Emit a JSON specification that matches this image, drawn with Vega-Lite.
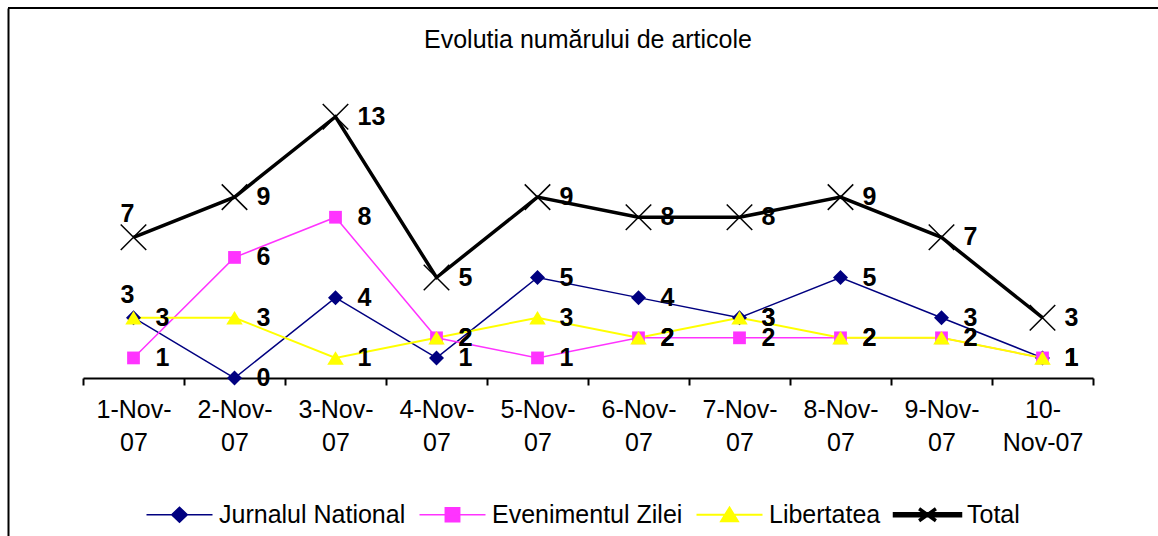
{
  "$schema": "https://vega.github.io/schema/vega-lite/v6.json",
  "width": 1150,
  "height": 528,
  "autosize": {"type": "none"},
  "padding": {"left": 8, "top": 8, "right": 0, "bottom": 0},
  "background": "white",
  "config": {"view": {"stroke": null}, "font": "Liberation Sans"},
  "title": {
    "text": "Evolutia numărului de articole",
    "font": "Liberation Sans",
    "fontSize": 25,
    "fontWeight": "normal",
    "color": "black",
    "anchor": "middle",
    "baseline": "middle",
    "offset": -33,
    "dy": 25,
    "dx": 5
  },
  "datasets": {
    "articles": [
      {"date": "1-Nov-07", "series": "Jurnalul National", "value": 3},
      {"date": "2-Nov-07", "series": "Jurnalul National", "value": 0},
      {"date": "3-Nov-07", "series": "Jurnalul National", "value": 4},
      {"date": "4-Nov-07", "series": "Jurnalul National", "value": 1},
      {"date": "5-Nov-07", "series": "Jurnalul National", "value": 5},
      {"date": "6-Nov-07", "series": "Jurnalul National", "value": 4},
      {"date": "7-Nov-07", "series": "Jurnalul National", "value": 3},
      {"date": "8-Nov-07", "series": "Jurnalul National", "value": 5},
      {"date": "9-Nov-07", "series": "Jurnalul National", "value": 3},
      {"date": "10-Nov-07", "series": "Jurnalul National", "value": 1},
      {"date": "1-Nov-07", "series": "Evenimentul Zilei", "value": 1},
      {"date": "2-Nov-07", "series": "Evenimentul Zilei", "value": 6},
      {"date": "3-Nov-07", "series": "Evenimentul Zilei", "value": 8},
      {"date": "4-Nov-07", "series": "Evenimentul Zilei", "value": 2},
      {"date": "5-Nov-07", "series": "Evenimentul Zilei", "value": 1},
      {"date": "6-Nov-07", "series": "Evenimentul Zilei", "value": 2},
      {"date": "7-Nov-07", "series": "Evenimentul Zilei", "value": 2},
      {"date": "8-Nov-07", "series": "Evenimentul Zilei", "value": 2},
      {"date": "9-Nov-07", "series": "Evenimentul Zilei", "value": 2},
      {"date": "10-Nov-07", "series": "Evenimentul Zilei", "value": 1},
      {"date": "1-Nov-07", "series": "Libertatea", "value": 3},
      {"date": "2-Nov-07", "series": "Libertatea", "value": 3},
      {"date": "3-Nov-07", "series": "Libertatea", "value": 1},
      {"date": "4-Nov-07", "series": "Libertatea", "value": 2},
      {"date": "5-Nov-07", "series": "Libertatea", "value": 3},
      {"date": "6-Nov-07", "series": "Libertatea", "value": 2},
      {"date": "7-Nov-07", "series": "Libertatea", "value": 3},
      {"date": "8-Nov-07", "series": "Libertatea", "value": 2},
      {"date": "9-Nov-07", "series": "Libertatea", "value": 2},
      {"date": "10-Nov-07", "series": "Libertatea", "value": 1},
      {"date": "1-Nov-07", "series": "Total", "value": 7},
      {"date": "2-Nov-07", "series": "Total", "value": 9},
      {"date": "3-Nov-07", "series": "Total", "value": 13},
      {"date": "4-Nov-07", "series": "Total", "value": 5},
      {"date": "5-Nov-07", "series": "Total", "value": 9},
      {"date": "6-Nov-07", "series": "Total", "value": 8},
      {"date": "7-Nov-07", "series": "Total", "value": 8},
      {"date": "8-Nov-07", "series": "Total", "value": 9},
      {"date": "9-Nov-07", "series": "Total", "value": 7},
      {"date": "10-Nov-07", "series": "Total", "value": 3}
    ]
  },
  "layer": [
    {
      "data": {"values": [{}]},
      "mark": {"type": "rule", "color": "black", "strokeWidth": 2},
      "encoding": {
        "y": {
          "datum": 18.41,
          "type": "quantitative",
          "scale": {"domain": [-7.86, 18.41], "nice": false, "zero": false}
        }
      }
    },
    {
      "data": {"name": "articles"},
      "encoding": {
        "x": {
          "field": "date",
          "type": "nominal",
          "sort": ["1-Nov-07", "2-Nov-07", "3-Nov-07", "4-Nov-07", "5-Nov-07", "6-Nov-07", "7-Nov-07", "8-Nov-07", "9-Nov-07", "10-Nov-07"],
          "scale": {"type": "band", "range": [75, 1085], "paddingInner": 0, "paddingOuter": 0},
          "axis": {
            "orient": "bottom",
            "offset": -158,
            "domain": true,
            "domainColor": "black",
            "domainWidth": 2,
            "ticks": true,
            "tickColor": "black",
            "tickWidth": 2,
            "tickSize": 7,
            "tickBand": "extent",
            "labelFont": "Liberation Sans",
            "labelFontSize": 25,
            "labelColor": "black",
            "labelLineHeight": 33,
            "labelPadding": 12,
            "labelBaseline": "top",
            "labelAngle": 0,
            "labelOverlap": false,
            "labelBound": false,
            "labelFlush": false,
            "labelExpr": "length(datum.label) > 8 ? ['10-', 'Nov-07'] : length(datum.label) > 0 ? [slice(datum.label, 0, 6), '07'] : ''",
            "grid": false,
            "title": null
          }
        },
        "y": {
          "field": "value",
          "type": "quantitative",
          "axis": {
            "orient": "left",
            "domain": true,
            "domainColor": "black",
            "domainWidth": 2,
            "ticks": false,
            "labels": false,
            "grid": false,
            "title": null
          }
        }
      },
      "layer": [
        {
          "mark": {"type": "line"},
          "encoding": {
            "color": {
              "field": "series",
              "type": "nominal",
              "scale": {
                "domain": ["Jurnalul National", "Evenimentul Zilei", "Libertatea", "Total"],
                "range": ["#000080", "#FF33FF", "#FFFF00", "#000000"]
              },
              "legend": {
                "orient": "none", "legendX": 126, "legendY": 494, "direction": "horizontal", "title": null,
                "labelFont": "Liberation Sans", "labelFontSize": 25, "labelColor": "black", "labelLimit": 400,
                "symbolSize": 144, "symbolStrokeWidth": 1.5, "symbolOpacity": 1, "labelOffset": 60, "columnPadding": 1
              }
            },
            "strokeWidth": {
              "field": "series",
              "type": "nominal",
              "scale": {
                "type": "ordinal",
                "domain": ["Jurnalul National", "Evenimentul Zilei", "Libertatea", "Total"],
                "range": [1.5, 1.5, 2, 3.5]
              },
              "legend": null
            }
          }
        },
        {
          "transform": [{"filter": "datum.series === 'Jurnalul National'"}],
          "mark": {"type": "point", "shape": "M-1,0L0,-1L1,0L0,1Z", "filled": true, "size": 225, "opacity": 1},
          "encoding": {"color": {"field": "series", "type": "nominal"}}
        },
        {
          "transform": [{"filter": "datum.series === 'Evenimentul Zilei'"}],
          "mark": {"type": "point", "shape": "M-0.85,-0.85L0.85,-0.85L0.85,0.85L-0.85,0.85Z", "filled": true, "size": 225, "opacity": 1},
          "encoding": {"color": {"field": "series", "type": "nominal"}}
        },
        {
          "transform": [{"filter": "datum.series === 'Libertatea'"}],
          "mark": {"type": "point", "shape": "M0,-0.9L1.1,0.9L-1.1,0.9Z", "filled": true, "size": 225, "opacity": 1},
          "encoding": {"color": {"field": "series", "type": "nominal"}}
        },
        {
          "transform": [{"filter": "datum.series === 'Total'"}],
          "mark": {"type": "point", "shape": "M-1.7,-1.7L1.7,1.7M-1.7,1.7L1.7,-1.7", "filled": false, "strokeWidth": 1.5, "size": 225, "opacity": 1},
          "encoding": {"color": {"field": "series", "type": "nominal"}}
        },
        {
          "transform": [{"filter": "false"}],
          "mark": {"type": "point", "filled": true, "strokeWidth": 1.5, "size": 144, "opacity": 1},
          "encoding": {
            "color": {"field": "series", "type": "nominal"},
            "stroke": {
              "field": "series",
              "type": "nominal",
              "scale": {
                "domain": ["Jurnalul National", "Evenimentul Zilei", "Libertatea", "Total"],
                "range": ["#000080", "#FF33FF", "#FFFF00", "#000000"]
              },
              "legend": {
                "orient": "none", "legendX": 126, "legendY": 494, "direction": "horizontal", "title": null,
                "labelFont": "Liberation Sans", "labelFontSize": 25, "labelColor": "black", "labelLimit": 400,
                "symbolSize": 144, "symbolStrokeWidth": 1.5, "symbolOpacity": 1, "labelOffset": 60, "columnPadding": 1
              }
            },
            "shape": {
              "field": "series",
              "type": "nominal",
              "scale": {
                "domain": ["Jurnalul National", "Evenimentul Zilei", "Libertatea", "Total"],
                "range": [
                  "M0,0L11,0M4.2,0L5.5,-1.25L6.8,0L5.5,1.25Z",
                  "M0,0L11,0M4.3,-1.15L6.7,-1.15L6.7,1.15L4.3,1.15Z",
                  "M0,0L11,0M5.5,-1.2L6.9,1.1L4.1,1.1Z",
                  "M0,-0.15L11,-0.15L11,0.15L0,0.15ZM4.1,-1L6.9,1M4.1,1L6.9,-1"
                ]
              },
              "legend": {
                "orient": "none", "legendX": 126, "legendY": 494, "direction": "horizontal", "title": null,
                "labelFont": "Liberation Sans", "labelFontSize": 25, "labelColor": "black", "labelLimit": 400,
                "symbolSize": 144, "symbolStrokeWidth": 1.5, "symbolOpacity": 1, "labelOffset": 60, "columnPadding": 1
              }
            }
          }
        },
        {
          "transform": [{"filter": "!(datum.date === '1-Nov-07' && (datum.series === 'Jurnalul National' || datum.series === 'Total'))"}],
          "mark": {"type": "text", "align": "left", "baseline": "middle", "dx": 22, "font": "Liberation Sans", "fontWeight": "bold", "fontSize": 25, "color": "black"},
          "encoding": {"text": {"field": "value", "type": "quantitative"}}
        },
        {
          "transform": [{"filter": "datum.date === '1-Nov-07' && (datum.series === 'Jurnalul National' || datum.series === 'Total')"}],
          "mark": {"type": "text", "align": "center", "baseline": "middle", "dx": -6, "dy": -23, "font": "Liberation Sans", "fontWeight": "bold", "fontSize": 25, "color": "black"},
          "encoding": {"text": {"field": "value", "type": "quantitative"}}
        }
      ]
    }
  ]
}
